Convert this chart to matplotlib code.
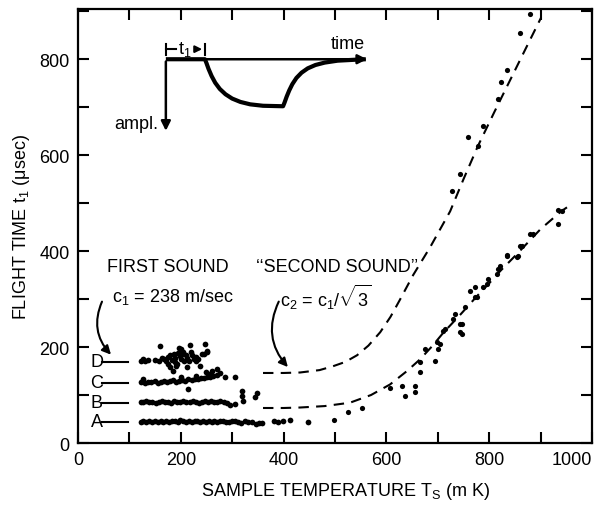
import numpy as np
import matplotlib
matplotlib.use("Agg")
import matplotlib.pyplot as plt
from matplotlib.patches import FancyArrowPatch

plt.rcParams['font.family'] = ['Liberation Sans', 'DejaVu Sans']
plt.rcParams['mathtext.fontset'] = 'custom'
plt.rcParams['mathtext.rm'] = 'Liberation Sans'
plt.rcParams['mathtext.it'] = 'Liberation Sans'
plt.rcParams['mathtext.bf'] = 'Liberation Sans'

# first sound bands (temperature mK, flight time usec)
a_x = [122, 127, 133, 138, 144, 150, 155, 161, 166, 172, 177, 183, 188, 194, 199, 205, 210, 216, 221,
       227, 232, 238, 243, 249, 254, 260, 265, 271, 276, 282, 288, 293, 299, 305, 311, 317, 324, 331,
       338, 346, 352, 358, 382, 390, 398, 412, 447]
a_y = [44, 45, 43, 46, 44, 45, 44, 46, 43, 45, 44, 46, 45, 44, 47, 45, 43, 46, 44,
       45, 46, 44, 45, 43, 46, 44, 45, 44, 46, 45, 43, 44, 46, 45, 44, 42, 45, 43,
       44, 40, 42, 41, 45, 44, 45, 48, 44]

b_x = [122, 127, 133, 139, 145, 151, 157, 163, 169, 175, 181, 187, 193, 199, 205, 211, 217, 223, 229,
       235, 241, 247, 253, 259, 265, 271, 277, 284, 290, 296, 305, 319, 321, 319, 344, 348, 214]
b_y = [86, 85, 87, 85, 86, 84, 86, 87, 85, 86, 84, 87, 86, 85, 88, 86, 85, 87, 86,
       84, 86, 88, 85, 87, 86, 85, 88, 86, 84, 79, 82, 98, 88, 108, 96, 104, 112]

c_x = [122, 126, 131, 137, 143, 149, 155, 161, 167, 173, 179, 185, 191, 197, 203, 209, 215, 221, 227,
       233, 239, 245, 251, 257, 263, 270, 276, 286, 305, 250, 260, 270, 257, 230, 200]
c_y = [127, 133, 126, 128, 127, 129, 126, 128, 130, 127, 129, 131, 128, 130, 132, 130, 133, 131, 134,
       133, 136, 135, 138, 137, 140, 142, 145, 137, 137, 148, 150, 154, 143, 140, 138]

d_x = [122, 126, 131, 136, 150, 157, 163, 168, 172, 176, 180, 183, 186, 189, 192, 195, 198, 201, 204,
       207, 210, 213, 216, 219, 222, 225, 229, 233, 237, 241, 246, 251, 160, 175, 188, 200, 212, 218,
       226, 247, 251, 190, 196, 203, 185, 180, 230]
d_y = [172, 176, 170, 174, 173, 172, 177, 175, 170, 180, 183, 174, 186, 178, 165, 188, 181, 175, 190,
       170, 184, 178, 172, 190, 183, 176, 180, 175, 160, 186, 185, 190, 202, 165, 168, 195, 158, 204,
       180, 206, 192, 160, 198, 185, 150, 158, 172]

# second sound points
lo_x = [498, 525, 553, 607, 630, 636, 656, 656, 665, 665, 675, 694, 700, 698, 704, 710, 714, 730, 733,
        743, 747, 743, 747, 753, 763, 772, 772, 776, 788, 796, 798, 815, 817, 821, 835, 835, 854, 856,
        860, 864, 879, 885, 934, 934, 942]
lo_y = [48, 65, 73, 115, 119, 98, 106, 119, 148, 169, 196, 171, 196, 210, 206, 233, 237, 258, 269,
        231, 248, 248, 227, 283, 317, 304, 325, 304, 325, 331, 342, 352, 362, 369, 390, 392, 387, 390,
        411, 411, 435, 435, 456, 485, 483]
up_x = [727, 743, 759, 778, 788, 817, 823, 835, 860, 879]
up_y = [525, 560, 638, 619, 660, 717, 752, 777, 854, 894]

# dashed guide curves
lo_cx = [360, 400, 432, 480, 529, 570, 607, 640, 665, 690, 710, 745, 776, 800, 821, 854, 900, 940, 955]
lo_cy = [73, 73, 74, 77, 84, 100, 122, 150, 174, 203, 229, 269, 306, 333, 358, 394, 446, 483, 494]
up_cx = [360, 400, 432, 470, 496, 520, 543, 565, 588, 608, 626, 652, 685, 724, 750, 778, 810, 840, 870, 901]
up_cy = [146, 146, 147, 152, 160, 169, 183, 203, 231, 263, 298, 350, 408, 483, 550, 619, 690, 755, 820, 887]

# inset pulse sketch
pulse_x = [171, 247, 250, 254, 260, 267, 276, 287, 300, 316, 335, 360, 399, 402, 406, 411, 417, 425,
           435, 447, 462, 480, 505, 540, 560]
pulse_y = [800, 800, 792, 780, 765, 751, 738, 727, 718, 711, 706, 703, 702, 710, 722, 735, 748, 761,
           772, 781, 788, 793, 797, 799, 800]

band_labels = ['A', 'B', 'C', 'D']
band_levels = [44, 84, 126, 169]

fig = plt.figure(figsize=(5.95, 5.06), dpi=100)
ax = fig.add_axes([0.131, 0.1225, 0.864, 0.858])
ax.set_xlim(0, 1000)
ax.set_ylim(0, 905)

for xs, ys in [(a_x, a_y), (b_x, b_y), (c_x, c_y), (d_x, d_y)]:
    ax.scatter(xs, ys, s=17, color='black', linewidths=0, zorder=3)
for xs, ys in [(lo_x, lo_y), (up_x, up_y)]:
    ax.scatter(xs, ys, s=14, color='black', linewidths=0, zorder=3)

ax.plot(lo_cx, lo_cy, color='black', lw=1.5, dashes=(5, 3.5))
ax.plot(up_cx, up_cy, color='black', lw=1.5, dashes=(5, 3.5))

for lab, lev in zip(band_labels, band_levels):
    ax.text(37, lev, lab, ha='center', va='center', fontsize=13)
    ax.plot([46, 97], [lev, lev], color='black', lw=1.5)

# inset
ax.plot(pulse_x, pulse_y, color='black', lw=3, solid_capstyle='butt')
ax.annotate('', xy=(568, 800), xytext=(171, 800),
            arrowprops=dict(arrowstyle='-|>', lw=1.8, color='black', mutation_scale=14))
ax.annotate('', xy=(171, 645), xytext=(171, 801),
            arrowprops=dict(arrowstyle='-|>', lw=1.8, color='black', mutation_scale=14))
ax.plot([171, 171], [809, 832], color='black', lw=1.5)
ax.plot([171, 190], [821, 821], color='black', lw=1.5)
ax.text(207, 823, 't$_1$', ha='center', va='center', fontsize=13)
ax.annotate('', xy=(247, 821), xytext=(226, 821),
            arrowprops=dict(arrowstyle='-|>', lw=1.5, color='black', mutation_scale=10))
ax.plot([247, 247], [809, 832], color='black', lw=1.5)
ax.text(525, 832, 'time', ha='center', va='center', fontsize=13)
ax.text(157, 666, 'ampl.', ha='right', va='center', fontsize=13)

# annotations
ax.text(175, 367, 'FIRST SOUND', ha='center', va='center', fontsize=13)
ax.text(66, 306, 'c$_1$ = 238 m/sec', ha='left', va='center', fontsize=13)
ax.text(505, 367, '\u2018\u2018SECOND SOUND\u2019\u2019', ha='center', va='center', fontsize=13)
ax.text(393, 306, r'c$_2$ = c$_1$/$\sqrt{3}$', ha='left', va='center', fontsize=13)
for start, end in [((49, 300), (68, 180)), ((393, 300), (412, 154))]:
    ax.add_patch(FancyArrowPatch(start, end, connectionstyle='arc3,rad=0.35',
                                 arrowstyle='-|>', mutation_scale=13, lw=1.5, color='black'))

ax.set_xticks(range(0, 1001, 100))
ax.set_xticklabels([str(v) if v % 200 == 0 else '' for v in range(0, 1001, 100)])
ax.get_xticklabels()[-1].set_ha('right')
ax.set_yticks(range(0, 901, 100))
ax.set_yticklabels([str(v) if v % 200 == 0 else '' for v in range(0, 901, 100)])
ax.tick_params(direction='in', length=8, width=1.5, top=True, right=True, labelsize=13, pad=6)
for sp in ax.spines.values():
    sp.set_linewidth(1.6)

ax.set_xlabel('SAMPLE TEMPERATURE T$_S$ (m K)', fontsize=13)
ax.set_ylabel(r'FLIGHT TIME t$_1$ ($\mu$sec)', fontsize=13)
ax.xaxis.set_label_coords(0.52, -0.085)
ax.yaxis.set_label_coords(-0.09, 0.5)

fig.savefig('out.png', dpi=100)
